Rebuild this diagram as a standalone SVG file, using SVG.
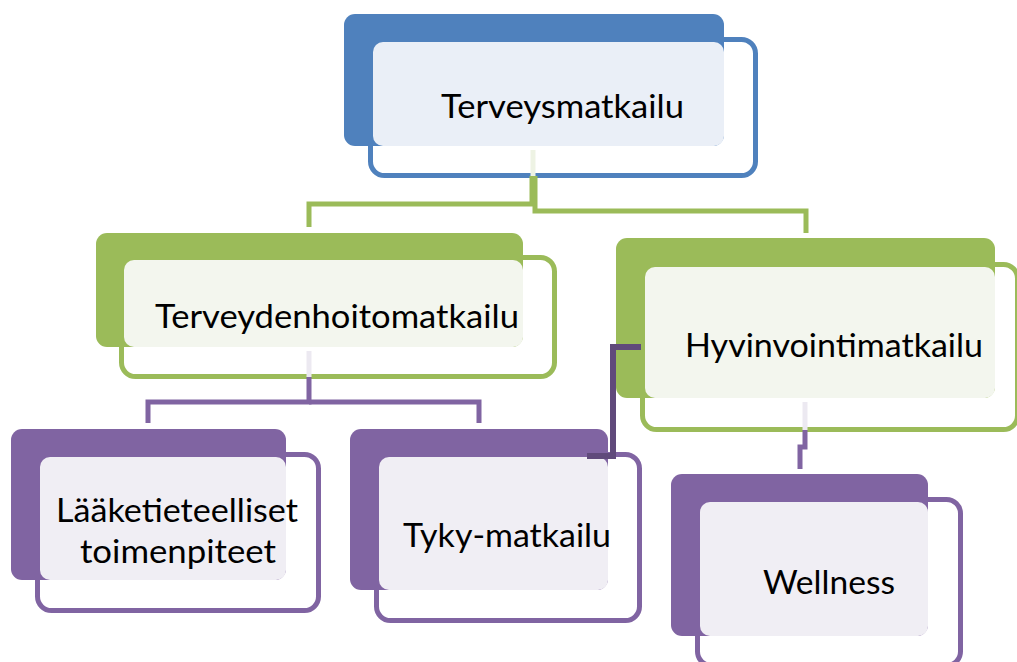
<svg xmlns="http://www.w3.org/2000/svg" width="1017" height="662" viewBox="0 0 1017 662">
  <defs>
    <style>
      .back-blue { fill: #4F81BD; }
      .back-green { fill: #9BBB59; }
      .back-purple { fill: #8064A2; }
      .frame { fill: #FFFFFF; stroke-width: 5; }
      .frame-blue { stroke: #4F81BD; }
      .frame-green { stroke: #9BBB59; }
      .frame-purple { stroke: #8064A2; }
      .tint-blue { fill: #EAEFF7; }
      .tint-green { fill: #F3F6EE; }
      .tint-purple { fill: #F0EEF4; }
      .label { font-family: Lato, "Liberation Sans", sans-serif; font-size: 33px; fill: #000000; }
      .link { fill: none; stroke-width: 5; stroke-linejoin: miter; }
      .link-green { stroke: #9BBB59; }
      .link-purple { stroke: #8064A2; }
      .link-dark { stroke: #604A7B; stroke-width: 6; }
      .link-faint-green { stroke: #EEF3E4; }
      .link-faint-purple { stroke: #ECE9F1; }
    </style>
  </defs>

  <!-- top level -->
  <g id="node-terveysmatkailu">
    <rect class="frame frame-blue" x="370.5" y="39.5" width="385" height="136" rx="14"/>
    <rect class="back-blue" x="344" y="14" width="380" height="132" rx="11"/>
    <rect class="tint-blue" x="373" y="42" width="351" height="104" rx="10"/>
    <text class="label" x="441" y="118" textLength="243" lengthAdjust="spacingAndGlyphs">Terveysmatkailu</text>
  </g>

  <!-- second level -->
  <g id="node-terveydenhoitomatkailu">
    <rect class="frame frame-green" x="121.5" y="257.5" width="433" height="119" rx="14"/>
    <rect class="back-green" x="96" y="233" width="427" height="114" rx="11"/>
    <rect class="tint-green" x="124" y="260" width="399" height="87" rx="10"/>
    <text class="label" x="155" y="328" textLength="364" lengthAdjust="spacingAndGlyphs">Terveydenhoitomatkailu</text>
  </g>

  <g id="node-hyvinvointimatkailu">
    <rect class="frame frame-green" x="642.5" y="264.5" width="375" height="165" rx="14"/>
    <rect class="back-green" x="616" y="238" width="379" height="160" rx="11"/>
    <rect class="tint-green" x="645" y="267" width="350" height="131" rx="10"/>
    <text class="label" x="685" y="357" textLength="298" lengthAdjust="spacingAndGlyphs">Hyvinvointimatkailu</text>
  </g>

  <!-- third level -->
  <g id="node-laaketieteelliset">
    <rect class="frame frame-purple" x="37.5" y="454.5" width="281" height="156" rx="14"/>
    <rect class="back-purple" x="11" y="429" width="275" height="151" rx="11"/>
    <rect class="tint-purple" x="40" y="457" width="246" height="123" rx="10"/>
    <text class="label" x="56" y="522" textLength="242" lengthAdjust="spacingAndGlyphs">Lääketieteelliset</text>
    <text class="label" x="80" y="563" textLength="196" lengthAdjust="spacingAndGlyphs">toimenpiteet</text>
  </g>

  <g id="node-tyky-matkailu">
    <rect class="frame frame-purple" x="376.5" y="454.5" width="263" height="166" rx="14"/>
    <rect class="back-purple" x="350" y="429" width="258" height="161" rx="11"/>
    <rect class="tint-purple" x="379" y="457" width="229" height="133" rx="10"/>
    <text class="label" x="403" y="547" textLength="208" lengthAdjust="spacingAndGlyphs">Tyky-matkailu</text>
  </g>

  <g id="node-wellness">
    <rect class="frame frame-purple" x="697.5" y="499.5" width="263" height="166" rx="14"/>
    <rect class="back-purple" x="671" y="474" width="257" height="162" rx="11"/>
    <rect class="tint-purple" x="700" y="502" width="228" height="134" rx="10"/>
    <text class="label" x="763" y="594" textLength="132" lengthAdjust="spacingAndGlyphs">Wellness</text>
  </g>

  <!-- connectors -->
  <g id="connectors">
    <path class="link link-faint-green" d="M533 150 V176"/>
    <path class="link link-green" d="M532 176 V204 H309 V227"/>
    <path class="link link-green" d="M535 176 V211 H806 V233"/>
    <path class="link link-faint-purple" d="M309 351 V377"/>
    <path class="link link-purple" d="M309 377 V402 H148 V423"/>
    <path class="link link-purple" d="M309 402 H479 V423"/>
    <path class="link link-faint-purple" d="M805 402 V430"/>
    <path class="link link-purple" d="M805 430 V447 H800 V469"/>
    <path class="link link-dark" d="M641 347 H613 V456 H587"/>
  </g>
</svg>
